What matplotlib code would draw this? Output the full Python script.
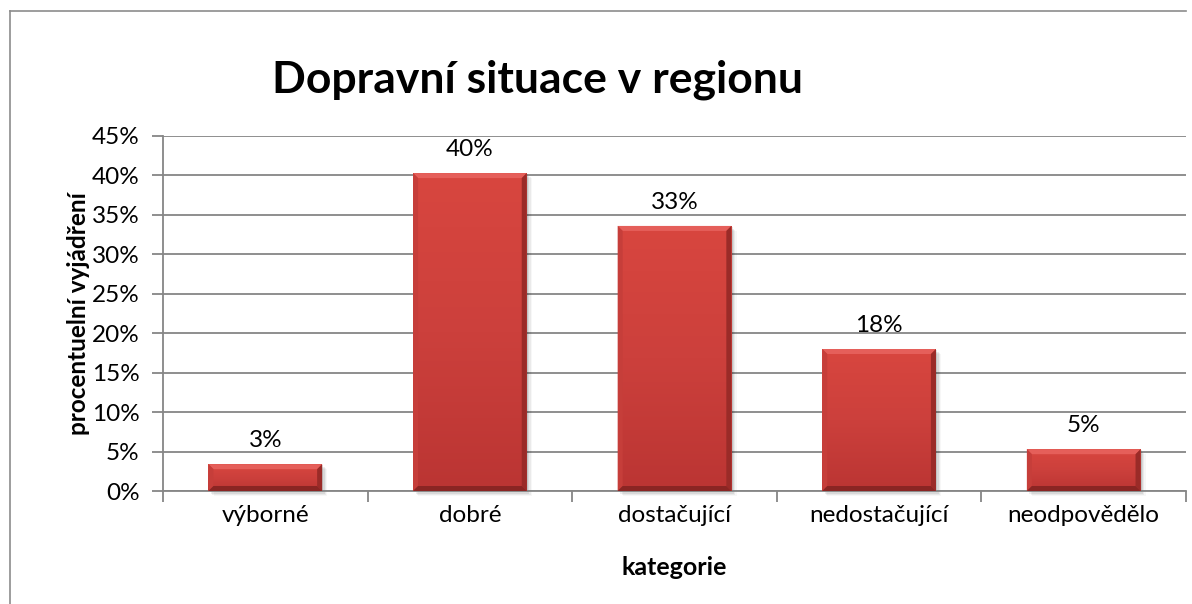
import matplotlib
matplotlib.use("Agg")
import matplotlib.pyplot as plt
import numpy as np
from matplotlib.patches import Rectangle, Polygon
from matplotlib.lines import Line2D
from matplotlib.colors import LinearSegmentedColormap

plt.rcParams['font.family'] = ['Lato', 'DejaVu Sans']

categories = ["výborné", "dobré", "dostačující", "nedostačující", "neodpovědělo"]
values = [3.4, 40.3, 33.6, 18.0, 5.3]
value_labels = ["3%", "40%", "33%", "18%", "5%"]
yticks = [0, 5, 10, 15, 20, 25, 30, 35, 40, 45]
ytick_labels = ["0%", "5%", "10%", "15%", "20%", "25%", "30%", "35%", "40%", "45%"]
title = "Dopravní situace v regionu"
xlabel = "kategorie"
ylabel = "procentuelní vyjádření"

W, H = 1192, 604
fig = plt.figure(figsize=(W / 100, H / 100), dpi=100)
fig.patch.set_facecolor("white")

# outer chart border (partially cropped in the reference)
fig.add_artist(Line2D([10 / W, 1186 / W], [1 - 11 / H, 1 - 11 / H], color="#8c8c8c", lw=1.2))
fig.add_artist(Line2D([10 / W, 10 / W], [1 - 11 / H, 0], color="#8c8c8c", lw=1.2))

ax_l, ax_r, ax_t, ax_b = 163, 1186, 136, 491
ax = fig.add_axes([ax_l / W, 1 - ax_b / H, (ax_r - ax_l) / W, (ax_b - ax_t) / H])
ax.set_xlim(-0.5, len(categories) - 0.5)
ax.set_ylim(0, 45)
ax.set_facecolor("none")

FS = 17.5
for s in ["top", "right"]:
    ax.spines[s].set_visible(False)
for s in ["left", "bottom"]:
    ax.spines[s].set_color("#868686")
    ax.spines[s].set_linewidth(1.3)

ax.set_yticks(yticks)
ax.set_yticklabels(ytick_labels, fontsize=FS, color="black")
ax.yaxis.grid(True, color="#868686", lw=1.3)
ax.set_axisbelow(True)
ax.tick_params(axis="y", length=8, width=1.3, color="#868686", pad=9)

xpos = np.arange(len(categories))
ax.set_xticks(xpos)
ax.set_xticklabels(categories, fontsize=FS)
ax.tick_params(axis="x", which="major", length=0, pad=10)
ax.set_xticks(np.arange(-0.5, len(categories), 1.0), minor=True)
ax.tick_params(axis="x", which="minor", length=8, width=1.3, color="#868686")

# pixel scale in data units
px_x = (len(categories)) / (ax_r - ax_l)
px_y = 45 / (ax_b - ax_t)

bar_w = 1 / 1.8
grad = LinearSegmentedColormap.from_list("g", ["#d8463f", "#cc403c", "#bb3533"])
for i, v in enumerate(values):
    x0 = xpos[i] - bar_w / 2
    x1 = xpos[i] + bar_w / 2
    # shadow
    for k, a in enumerate([0.10, 0.07, 0.05, 0.03]):
        off = (k + 1) * 1.3
        ax.add_patch(Rectangle((x0 + off * px_x, -off * px_y), bar_w, v,
                               facecolor="#000000", alpha=a, lw=0, zorder=2, clip_on=False))
    bar = ax.bar(xpos[i], v, width=bar_w, color="#cc3f3b", zorder=3, lw=0)[0]
    im = ax.imshow(np.linspace(0, 1, 100).reshape(-1, 1), cmap=grad, aspect="auto",
                   extent=[x0, x1, 0, v], origin="upper", zorder=3.5)
    im.set_clip_path(bar)
    bx = 5 * px_x
    by = min(5 * px_y, v / 3)
    # top bevel (light)
    ax.add_patch(Polygon([[x0, v], [x1, v], [x1 - bx, v - by], [x0 + bx, v - by]],
                         closed=True, facecolor="#e55f5a", lw=0, zorder=4))
    # left bevel
    ax.add_patch(Polygon([[x0, v], [x0 + bx, v - by], [x0 + bx, by], [x0, 0]],
                         closed=True, facecolor="#c63e3a", lw=0, zorder=4))
    # right bevel (dark)
    ax.add_patch(Polygon([[x1, v], [x1 - bx, v - by], [x1 - bx, by], [x1, 0]],
                         closed=True, facecolor="#9a2b28", lw=0, zorder=4))
    # bottom bevel (dark)
    ax.add_patch(Polygon([[x0, 0], [x1, 0], [x1 - bx, by], [x0 + bx, by]],
                         closed=True, facecolor="#8a2523", lw=0, zorder=4))
    ax.text(xpos[i], v + 3.0, value_labels[i], ha="center", va="center", fontsize=FS, zorder=5)

ax.set_xlabel(xlabel, fontsize=18, fontweight="bold", labelpad=22)
ax.set_ylabel(ylabel, fontsize=17.5, fontweight="bold", labelpad=1)
fig.text(537 / W, 1 - 80 / H, title, ha="center", va="center", fontsize=32, fontweight="bold")

fig.savefig("out.png", dpi=100)
